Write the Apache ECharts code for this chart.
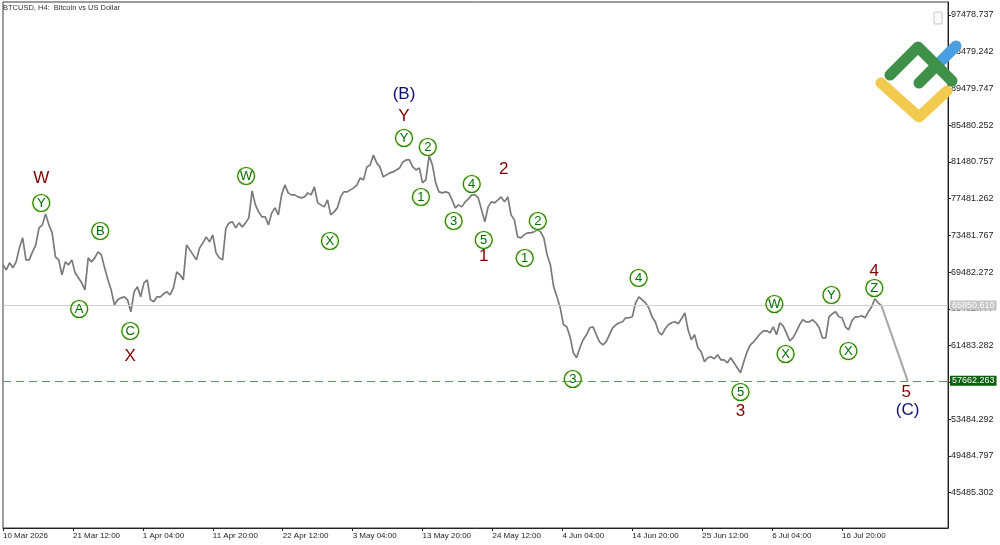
<!DOCTYPE html>
<html>
<head>
<meta charset="UTF-8">
<title>BTCUSD, H4</title>
<script src="https://cdn.jsdelivr.net/npm/echarts@6/dist/echarts.min.js"></script>
<style>
    html, body {margin: 0; padding: 0; background: #fff;}
    #main {width: 1000px; height: 545px;}
</style>
</head>
<body>
<div id="main"></div>
<script type="text/javascript">

    // first H4 bar on screen and the spacing of the price readings below
    var startTime = '2026-03-10 20:00';
    var stepHours = 12;

    // price read every 12 hours from the chart
    var prices = [
        70286, 69742, 70504, 69960, 70613, 72135, 73223, 70830, 70830, 71700,
        72461, 74311, 74637, 75834, 74637, 73766, 71156, 70830, 69198, 70613,
        70286, 70830, 69416, 68872, 68328, 67567, 71047, 70613, 71047, 71700,
        71373, 69960, 68654, 67567, 65935, 66479, 66697, 66806, 66479, 65174,
        67350, 67894, 66806, 68328, 68654, 66479, 66262, 66806, 66806, 67132,
        67350, 67023, 67785, 69524, 69198, 68654, 72461, 71918, 71373, 70830,
        72135, 72679, 73332, 72788, 73549, 71591, 71047, 70830, 74311, 74855,
        74964, 74311, 74855, 74420, 74855, 75398, 78335, 76812, 76050, 75507,
        75507, 74637, 75942, 76485, 75725, 77900, 78988, 78117, 77900, 77900,
        77682, 77573, 77682, 78117, 77900, 78770, 77030, 76812, 76595, 77356,
        75725, 76050, 76485, 77682, 78226, 78226, 78444, 78661, 78988, 79749,
        79531, 80946, 81163, 82250, 81380, 80946, 79858, 80076, 80293, 80402,
        80619, 80837, 81489, 81707, 81707, 80946, 80619, 80837, 79204, 79531,
        82142, 81163, 79204, 78226, 78117, 78226, 78117, 77356, 76485,
        76812, 76595, 77139, 77465, 77900, 77900, 77573, 76268, 74964, 76595,
        77139, 77030, 77356, 77682, 77139, 77682, 75725, 75181, 73331, 73223,
        73549, 73766, 73766, 73875, 74093, 73875, 73223, 71373, 70286, 67894,
        66806, 65609, 63760, 63542, 62454, 60714, 60170, 61258, 62128, 62672,
        63433, 63542, 62672, 61911, 61584, 61911, 62672, 63433, 63760, 63978,
        64086, 64521, 64521, 64630, 66153, 66806, 66479, 66153, 65609, 64630,
        64086, 62998, 62672, 63324, 63760, 63978, 64086, 63869,
        64412, 65065, 63216, 62128, 62672, 61258, 60823, 59735, 60170, 60279,
        60061, 60497, 59953, 59953, 59627, 60170, 59627, 59083, 58539, 59735,
        60823, 61584, 61911, 62346, 62780, 63107, 63107, 62889, 63542, 62672,
        63978, 63651, 62889, 62019, 62346, 62998, 63760, 64304, 64086, 64086,
        64304, 63978, 63433, 62346, 62346, 64630, 64956, 65174, 64630, 64521,
        63542, 63216, 64195, 64630, 64630, 64739, 64521, 65174, 65718, 66588,
        66153, 65850.610
    ];

    var lastPrice = 65850.610;
    var targetPrice = 57662.263;
    var forecastEnd = '2026-07-26 20:00';

    var viewStart = '2026-03-10 20:00';
    var viewEnd = '2026-08-01 23:40';
    var priceMin = 41644;
    var priceMax = 98894;

    var priceTicks = [45485.302, 49484.797, 53484.292, 57483.787, 61483.282, 65482.777, 69482.272,
        73481.767, 77481.262, 81480.757, 85480.252, 89479.747, 93479.242, 97478.737];
    var timeTicks = ['2026-03-10 20:00', '2026-03-21 12:00', '2026-04-01 04:00', '2026-04-11 20:00',
        '2026-04-22 12:00', '2026-05-03 04:00', '2026-05-13 20:00', '2026-05-24 12:00',
        '2026-06-04 04:00', '2026-06-14 20:00', '2026-06-25 12:00', '2026-07-06 04:00',
        '2026-07-16 20:00'];

    // circled (minor degree) wave marks: time, price, text
    var minorWaves = [
        ['2026-03-16 16:00', 77017, 'Y'],
        ['2026-03-22 11:00', 65479, 'A'],
        ['2026-03-25 16:00', 73969, 'B'],
        ['2026-03-30 06:00', 63085, 'C'],
        ['2026-04-16 22:00', 79955, 'W'],
        ['2026-04-29 17:00', 72881, 'X'],
        ['2026-05-11 00:00', 84091, 'Y'],
        ['2026-05-13 14:00', 77670, '1'],
        ['2026-05-14 15:00', 83112, '2'],
        ['2026-05-18 14:00', 75057, '3'],
        ['2026-05-21 08:00', 79084, '4'],
        ['2026-05-23 04:00', 72989, '5'],
        ['2026-05-29 10:00', 71030, '1'],
        ['2026-05-31 10:00', 75057, '2'],
        ['2026-06-05 18:00', 57861, '3'],
        ['2026-06-15 19:00', 68854, '4'],
        ['2026-07-01 08:00', 56446, '5'],
        ['2026-07-06 12:00', 66024, 'W'],
        ['2026-07-08 05:00', 60582, 'X'],
        ['2026-07-15 05:00', 67003, 'Y'],
        ['2026-07-17 19:00', 60908, 'X'],
        ['2026-07-21 18:00', 67765, 'Z']
    ];
    // intermediate degree (dark red)
    var intermediateWaves = [
        ['2026-03-16 16:00', 79738, 'W'],
        ['2026-03-30 06:00', 60364, 'X'],
        ['2026-05-11 00:00', 86486, 'Y'],
        ['2026-05-23 04:00', 71248, '1'],
        ['2026-05-26 05:00', 80717, '2'],
        ['2026-07-01 08:00', 54378, '3'],
        ['2026-07-21 18:00', 69615, '4'],
        ['2026-07-26 15:00', 56446, '5']
    ];
    // primary degree (navy)
    var primaryWaves = [
        ['2026-05-11 00:00', 88880, '(B)'],
        ['2026-07-26 20:00', 54487, '(C)']
    ];

    var MONTHS = ['Jan', 'Feb', 'Mar', 'Apr', 'May', 'Jun', 'Jul', 'Aug', 'Sep', 'Oct', 'Nov', 'Dec'];

    function toTime(s) {
        var p = s.split(/[- :]/);
        return Date.UTC(+p[0], +p[1] - 1, +p[2], +p[3], +p[4]);
    }

    function pad(n) {
        return n < 10 ? '0' + n : '' + n;
    }

    function fmtTime(v) {
        var d = new Date(v);
        var day = d.getUTCDate() + ' ' + MONTHS[d.getUTCMonth()];
        if (v === toTime(timeTicks[0])) {
            return day + ' ' + d.getUTCFullYear();
        }
        return day + ' ' + pad(d.getUTCHours()) + ':' + pad(d.getUTCMinutes());
    }

    var t0 = toTime(startTime);
    var priceData = prices.map(function (p, i) {
        return [t0 + i * stepHours * 3600 * 1000, p];
    });
    var forecastData = [priceData[priceData.length - 1], [toTime(forecastEnd), targetPrice]];

    function marks(list) {
        return list.map(function (m) {
            return {value: [toTime(m[0]), m[1]], name: m[2]};
        });
    }

    var FONT = 'Liberation Sans, Arial, sans-serif';

    var myChart = echarts.init(document.getElementById('main'));
    var option = {
        animation: false,
        backgroundColor: '#ffffff',
        grid: {
            left: 2, top: 2, right: 52, bottom: 17,
            show: true, borderColor: '#3a3a3a', borderWidth: 1
        },
        title: {
            text: 'BTCUSD, H4:  Bitcoin vs US Dollar',
            left: 3, top: 4, padding: 0,
            textStyle: {fontSize: 7.5, fontWeight: 'normal', color: '#333', fontFamily: FONT}
        },
        xAxis: {
            type: 'value',
            min: toTime(viewStart),
            max: toTime(viewEnd),
            splitLine: {show: false},
            axisLine: {show: true, lineStyle: {color: '#222'}},
            axisTick: {show: true, length: 3, lineStyle: {color: '#222'}, customValues: timeTicks.map(toTime)},
            axisLabel: {
                customValues: timeTicks.map(toTime),
                formatter: fmtTime,
                align: 'left',
                margin: 4,
                fontSize: 8,
                color: '#222',
                fontFamily: FONT
            }
        },
        yAxis: {
            type: 'value',
            position: 'right',
            min: priceMin,
            max: priceMax,
            splitLine: {show: false},
            axisLine: {show: true, lineStyle: {color: '#222'}},
            axisTick: {show: true, length: 3, lineStyle: {color: '#222'}, customValues: priceTicks},
            axisLabel: {
                customValues: priceTicks,
                formatter: function (v) { return v.toFixed(3); },
                margin: 3,
                fontSize: 9,
                color: '#222',
                fontFamily: FONT
            }
        },
        series: [
            {
                name: 'BTCUSD',
                type: 'line',
                data: priceData,
                symbol: 'none',
                lineStyle: {color: '#7a7a7a', width: 1.7},
                z: 3,
                markLine: {
                    symbol: 'none',
                    silent: true,
                    animation: false,
                    data: [
                        {
                            yAxis: lastPrice,
                            lineStyle: {color: '#cfcfcf', type: 'solid', width: 1},
                            label: {
                                position: 'end', distance: 2,
                                formatter: lastPrice.toFixed(3),
                                backgroundColor: '#c4c4c4', color: '#fff',
                                fontSize: 9, fontFamily: FONT, padding: [1, 2, 0, 2]
                            }
                        },
                        {
                            yAxis: targetPrice,
                            lineStyle: {color: '#5f955f', type: [8, 5], width: 1},
                            label: {
                                position: 'end', distance: 2,
                                formatter: targetPrice.toFixed(3),
                                backgroundColor: '#0b600b', color: '#fff',
                                fontSize: 9, fontFamily: FONT, padding: [1, 2, 0, 2]
                            }
                        }
                    ]
                }
            },
            {
                name: 'forecast',
                type: 'line',
                data: forecastData,
                symbol: 'none',
                lineStyle: {color: '#a6a6a6', width: 2},
                z: 3
            },
            {
                name: 'minor',
                type: 'scatter',
                data: marks(minorWaves),
                symbol: 'circle',
                symbolSize: 17,
                clip: false,
                z: 5,
                itemStyle: {
                    opacity: 1,
                    color: 'rgba(255,255,255,0)',
                    borderColor: '#138413',
                    borderWidth: 1.2,
                    shadowColor: '#e3cf45',
                    shadowBlur: 2
                },
                label: {
                    show: true, position: 'inside', formatter: '{b}',
                    color: '#006e00', fontSize: 13, fontFamily: FONT
                }
            },
            {
                name: 'intermediate',
                type: 'scatter',
                data: marks(intermediateWaves),
                symbolSize: 0,
                clip: false,
                z: 5,
                itemStyle: {opacity: 1},
                label: {
                    show: true, position: 'inside', formatter: '{b}',
                    color: '#800000', fontSize: 17, fontFamily: FONT
                }
            },
            {
                name: 'primary',
                type: 'scatter',
                data: marks(primaryWaves),
                symbolSize: 0,
                clip: false,
                z: 5,
                itemStyle: {opacity: 1},
                label: {
                    show: true, position: 'inside', formatter: '{b}',
                    color: '#0d0d73', fontSize: 17, fontFamily: FONT
                }
            }
        ],
        graphic: [
            {
                type: 'rect', silent: true,
                shape: {x: 934, y: 12, width: 8, height: 12, r: 1},
                style: {fill: '#fafafa', stroke: '#c8c8c8', lineWidth: 1}
            },
            {
                type: 'polyline', silent: true, z: 100,
                shape: {points: [[939, 63], [956, 46]]},
                style: {stroke: '#4b9fe0', lineWidth: 11, lineCap: 'round', fill: null}
            },
            {
                type: 'polyline', silent: true, z: 101,
                shape: {points: [[881, 83], [919, 117], [947, 91]]},
                style: {stroke: '#f2ca4e', lineWidth: 11, lineCap: 'round', lineJoin: 'round', fill: null}
            },
            {
                type: 'polyline', silent: true, z: 102,
                shape: {points: [[890, 75], [918, 47], [952, 81]]},
                style: {stroke: '#3f9049', lineWidth: 11, lineCap: 'round', lineJoin: 'round', fill: null}
            },
            {
                type: 'polyline', silent: true, z: 102,
                shape: {points: [[919, 83], [935, 67]]},
                style: {stroke: '#3f9049', lineWidth: 11, lineCap: 'round', fill: null}
            }
        ]
    };
    myChart.setOption(option);

</script>
</body>
</html>
